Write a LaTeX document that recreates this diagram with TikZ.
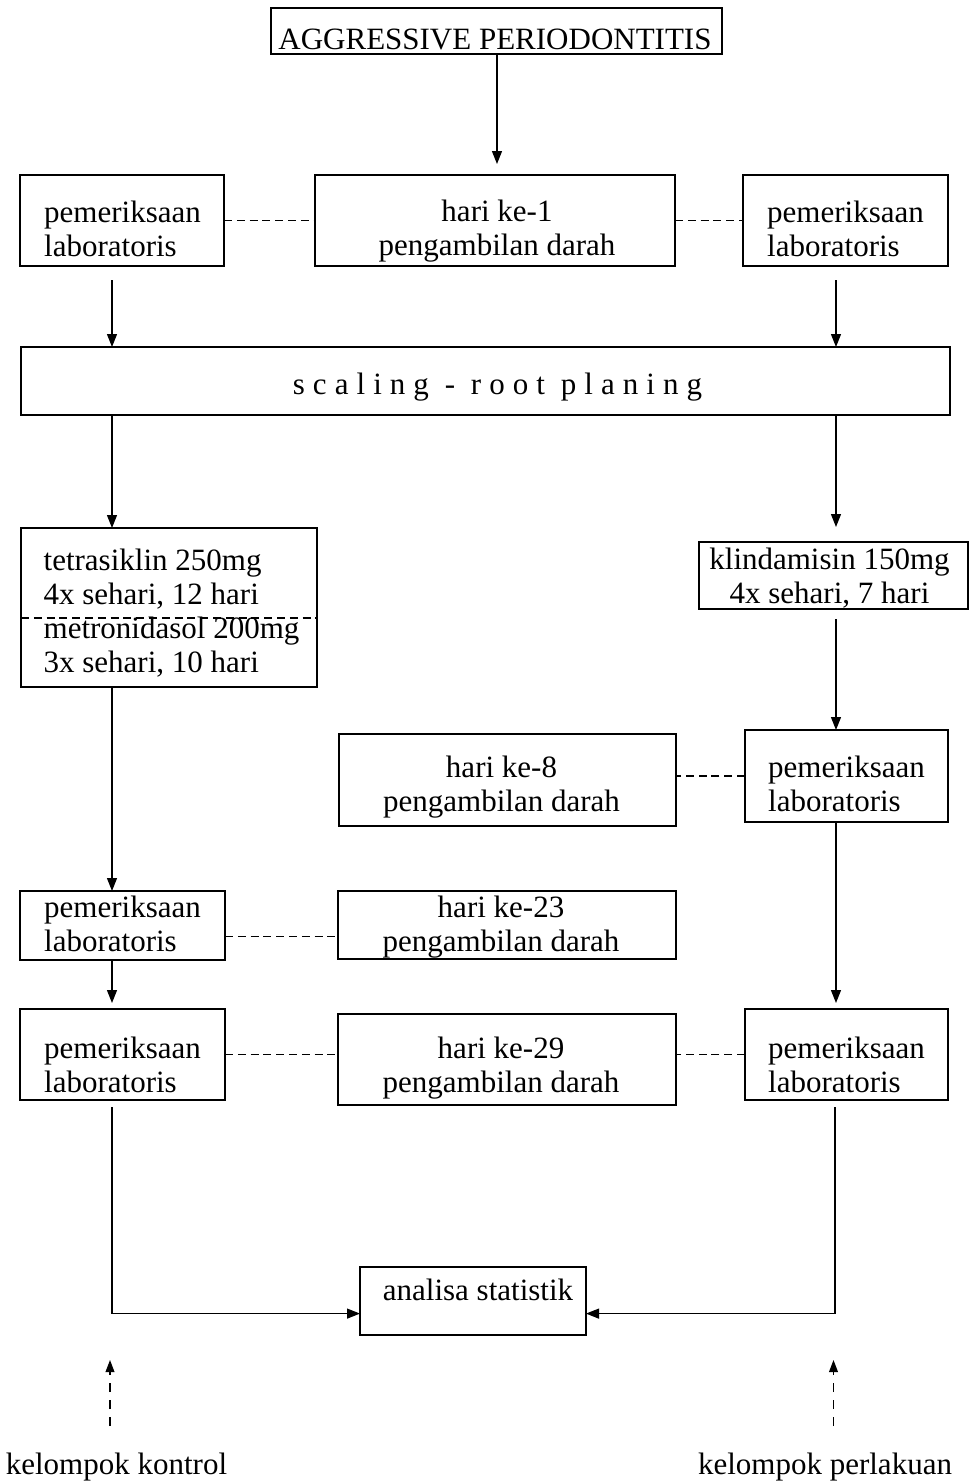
\documentclass[tikz,border=0pt]{standalone}
\usepackage{fontspec}
\setmainfont{Liberation Serif}
\usetikzlibrary{arrows.meta,calc}
\tikzset{
  box/.style={draw, line width=0.8pt, inner sep=0pt, outer sep=0pt, rectangle},
  txt/.style={inner sep=0pt, outer sep=0pt, font=\fontsize{15.5pt}{17pt}\selectfont},
  arr/.style={-{Triangle[length=6.5pt,width=5pt]}, line width=0.6pt},
  darr/.style={-{Triangle[length=6pt,width=4.4pt]}, line width=0.6pt, dash pattern=on 4.5pt off 4pt},
  dsh/.style={line width=0.8pt, dash pattern=on 4pt off 2.4pt}
}
\newcommand\bx[5]{\node[box,minimum width={(#4-#2)*0.5pt},minimum height={(#5-#3)*0.5pt}] (#1) at ({(#2+#4)/2},{(#3+#5)/2}) {};}
\newcommand\twol[2]{\strut #1\\\strut #2}
\begin{document}
\begin{tikzpicture}[x=0.5pt,y=-0.5pt]
\useasboundingbox[fill=white] (0,0) rectangle (970,1484);
% boxes
\bx{title}{271}{8}{722}{54}
\bx{labA}{20}{175}{224}{266}
\bx{hariA}{315}{175}{675}{266}
\bx{labB}{743}{175}{948}{266}
\bx{scal}{21}{347}{950}{415}
\bx{tetra}{21}{528}{317}{687}
\bx{klin}{699}{542}{968}{609}
\bx{hariB}{339}{734}{676}{826}
\bx{labC}{745}{730}{948}{822}
\bx{labD}{20}{891}{225}{960}
\bx{hariC}{338}{891}{676}{959}
\bx{labE}{20}{1009}{225}{1100}
\bx{hariD}{338}{1014}{676}{1105}
\bx{labF}{745}{1009}{948}{1100}
\bx{anal}{360}{1267}{586}{1335}
% texts
\node[txt] (titlet) at ($(title)+(-1.5,12)$) {\strut AGGRESSIVE PERIODONTITIS};
\node[txt,align=left] (labAt) at ($(labA)+(0.5,12)$) {\twol{pemeriksaan}{laboratoris}};
\node[txt,align=center] (hariAt) at ($(hariA)+(2,11)$) {\twol{hari ke-1}{pengambilan darah}};
\node[txt,align=left] (labBt) at ($(labB)+(0,12)$) {\twol{pemeriksaan}{laboratoris}};
\node[txt] (scalt) at ($(scal)+(12,7)$) {\addfontfeature{LetterSpace=26}\strut scaling - root planing};
\node[txt,align=left] (tetrat) at ($(tetra)+(2.5,7)$) {\strut tetrasiklin 250mg\\\strut 4x sehari, 12 hari\\\strut metronidasol 200mg\\\strut 3x sehari, 10 hari};
\node[txt,align=center] (klint) at ($(klin)+(-4,4)$) {\twol{klindamisin 150mg}{4x sehari, 7 hari}};
\node[txt,align=center] (hariBt) at ($(hariB)+(-6,8)$) {\twol{hari ke-8}{pengambilan darah}};
\node[txt,align=left] (labCt) at ($(labC)+(0,12)$) {\twol{pemeriksaan}{laboratoris}};
\node[txt,align=left] (labDt) at ($(labD)+(0,2)$) {\twol{pemeriksaan}{laboratoris}};
\node[txt,align=center] (hariCt) at ($(hariC)+(-6,2.5)$) {\twol{hari ke-23}{pengambilan darah}};
\node[txt,align=left] (labEt) at ($(labE)+(0,14)$) {\twol{pemeriksaan}{laboratoris}};
\node[txt,align=center] (hariDt) at ($(hariD)+(-6,9)$) {\twol{hari ke-29}{pengambilan darah}};
\node[txt,align=left] (labFt) at ($(labF)+(0,14)$) {\twol{pemeriksaan}{laboratoris}};
\node[txt] (analt) at ($(anal)+(5,-7)$) {\strut analisa statistik};
\node[txt] (kk) at (116.5,1468) {\strut kelompok kontrol};
\node[txt] (kp) at (825,1468) {\strut kelompok perlakuan};
% coordinates
\coordinate (htip) at (497,164);
\coordinate (a1) at (112,280);
\coordinate (a2) at (836,280);
\coordinate (ktip) at (836,527);
\coordinate (k0) at (836,619);
\coordinate (l4tip) at (112,1003);
\coordinate (r4tip) at (836,1003);
\coordinate (c1) at (112,1107);
\coordinate (c2) at (835,1107);
\coordinate (dL0) at (110,1426);
\coordinate (dL1) at (110,1360);
\coordinate (dR0) at (833.5,1426);
\coordinate (dR1) at (833.5,1360);
% arrows
\draw[arr] (title.south -| htip) -- (htip);
\draw[arr] (a1) -- (scal.north -| a1);
\draw[arr] (a2) -- (scal.north -| a2);
\draw[arr] (scal.south -| a1) -- (tetra.north -| a1);
\draw[arr] (scal.south -| a2) -- (ktip);
\draw[arr] (k0) -- (labC.north -| k0);
\draw[arr] (tetra.south -| a1) -- (labD.north -| a1);
\draw[arr] (labD.south -| a1) -- (l4tip);
\draw[arr] (labC.south -| a2) -- (r4tip);
\draw[arr] (c1) |- ([yshift=-6.3pt]anal.west);
\draw[arr] (c2) |- ([yshift=-6.3pt]anal.east);
\draw[darr] (dL0) -- (dL1);
\draw[darr] (dR0) -- (dR1);
% dashed links
\draw[dsh] (labA.east) -- (hariA.west);
\draw[dsh] (hariA.east) -- (labB.west);
\draw[dsh] ([yshift=-5.25pt]tetra.west) -- ([yshift=-5.25pt]tetra.east);
\draw[dsh] (labC.west) -- (labC.west -| hariB.east);
\draw[dsh] ([yshift=-5.5pt]labD.east) -- ([yshift=-5.5pt]labD.east -| hariC.west);
\draw[dsh] (labE.east) -- (labE.east -| hariD.west);
\draw[dsh] (labF.west) -- (labF.west -| hariD.east);
\end{tikzpicture}
\end{document}
